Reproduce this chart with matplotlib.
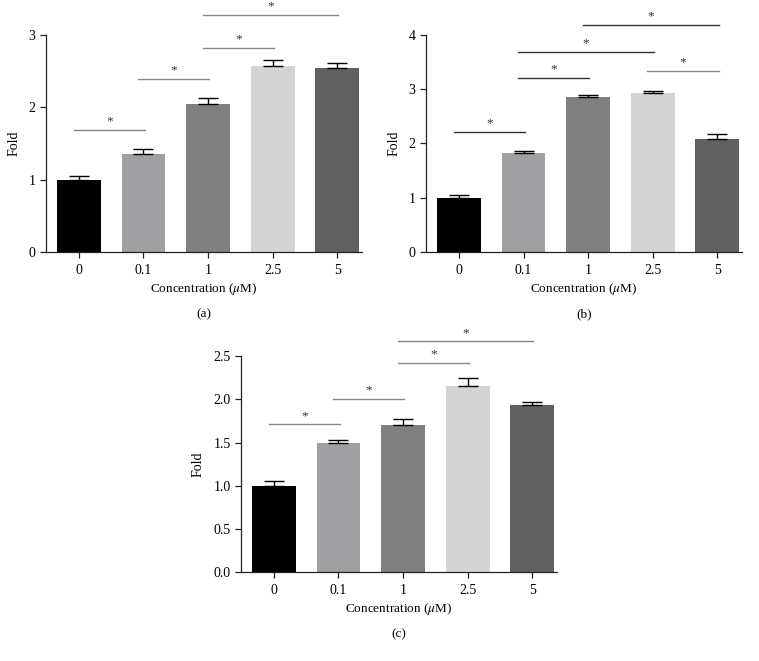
import matplotlib
matplotlib.use("Agg")
import matplotlib.pyplot as plt

plt.rcParams['font.family'] = ['Liberation Serif', 'DejaVu Serif']
plt.rcParams['mathtext.fontset'] = 'stix'

concentrations = ["0", "0.1", "1", "2.5", "5"]
bar_colors = ["#000000", "#a0a0a4", "#808080", "#d4d4d4", "#606060"]

# panel (a)
fold_a = [1.00, 1.36, 2.05, 2.57, 2.54]
err_a = [0.05, 0.06, 0.08, 0.09, 0.07]
sig_a = [(0, 1, 1.69), (1, 2, 2.39), (2, 3, 2.82), (2, 4, 3.28)]

# panel (b)
fold_b = [1.00, 1.82, 2.86, 2.93, 2.09]
err_b = [0.05, 0.04, 0.04, 0.04, 0.08]
sig_b = [(0, 1, 2.21), (1, 2, 3.20), (1, 3, 3.69), (3, 4, 3.34), (2, 4, 4.18)]

# panel (c)
fold_c = [1.00, 1.49, 1.70, 2.16, 1.93]
err_c = [0.055, 0.04, 0.07, 0.09, 0.04]
sig_c = [(0, 1, 1.71), (1, 2, 2.00), (2, 3, 2.42), (2, 4, 2.67)]


def draw_panel(ax, values, errs, sigs, yticks, ticklabels, ymax, sig_colors, tag, ylabel_pad):
    xs = list(range(len(values)))
    ax.bar(xs, values, width=0.68, color=bar_colors, zorder=2)
    ax.errorbar(xs, values, yerr=[[0] * len(errs), errs], fmt='none',
                ecolor='black', elinewidth=1.0, capsize=7.5, capthick=1.0, zorder=3)

    for (i, j, h), c in zip(sigs, sig_colors):
        ax.plot([i - 0.08, j + 0.02], [h, h], color=c, lw=1.0, clip_on=False)
        ax.text((i + j) / 2 - 0.03, h + ymax * 0.012, "*", ha='center', va='bottom',
                fontsize=9.5, color='#333333')

    ax.set_xlim(-0.51, 4.38)
    ax.set_ylim(0, ymax)
    ax.set_xticks(xs)
    ax.set_xticklabels(concentrations, fontsize=10)
    ax.set_yticks(yticks)
    ax.set_yticklabels(ticklabels, fontsize=10)
    ax.tick_params(axis='both', direction='out', length=4.5, width=0.9, color='#222222', pad=3)
    ax.tick_params(axis='x', pad=4)
    for s in ['top', 'right']:
        ax.spines[s].set_visible(False)
    for s in ['left', 'bottom']:
        ax.spines[s].set_linewidth(0.9)
        ax.spines[s].set_color('#222222')
    ax.set_xlabel(r"Concentration ($\mu$M)", fontsize=9.5, labelpad=3)
    ax.set_ylabel("Fold", fontsize=10, labelpad=ylabel_pad)
    ax.text(0.5, -0.285, tag, transform=ax.transAxes, ha='center', va='center', fontsize=9.5)


fig = plt.figure(figsize=(7.59, 6.61), dpi=100)

ax_a = fig.add_axes([0.0606, 0.6188, 0.416, 0.3283])
draw_panel(ax_a, fold_a, err_a, sig_a, [0, 1, 2, 3], ["0", "1", "2", "3"], 3,
           ['#888888'] * 4, "(a)", 6)

ax_b = fig.add_axes([0.5613, 0.6188, 0.416, 0.3283])
draw_panel(ax_b, fold_b, err_b, sig_b, [0, 1, 2, 3, 4], ["0", "1", "2", "3", "4"], 4,
           ['#333333', '#333333', '#333333', '#888888', '#333333'], "(b)", 6)

ax_c = fig.add_axes([0.3175, 0.1342, 0.416, 0.327])
draw_panel(ax_c, fold_c, err_c, sig_c, [0, 0.5, 1, 1.5, 2, 2.5],
           ["0.0", "0.5", "1.0", "1.5", "2.0", "2.5"], 2.5,
           ['#888888'] * 4, "(c)", 6)

fig.savefig("out.png", dpi=100)
